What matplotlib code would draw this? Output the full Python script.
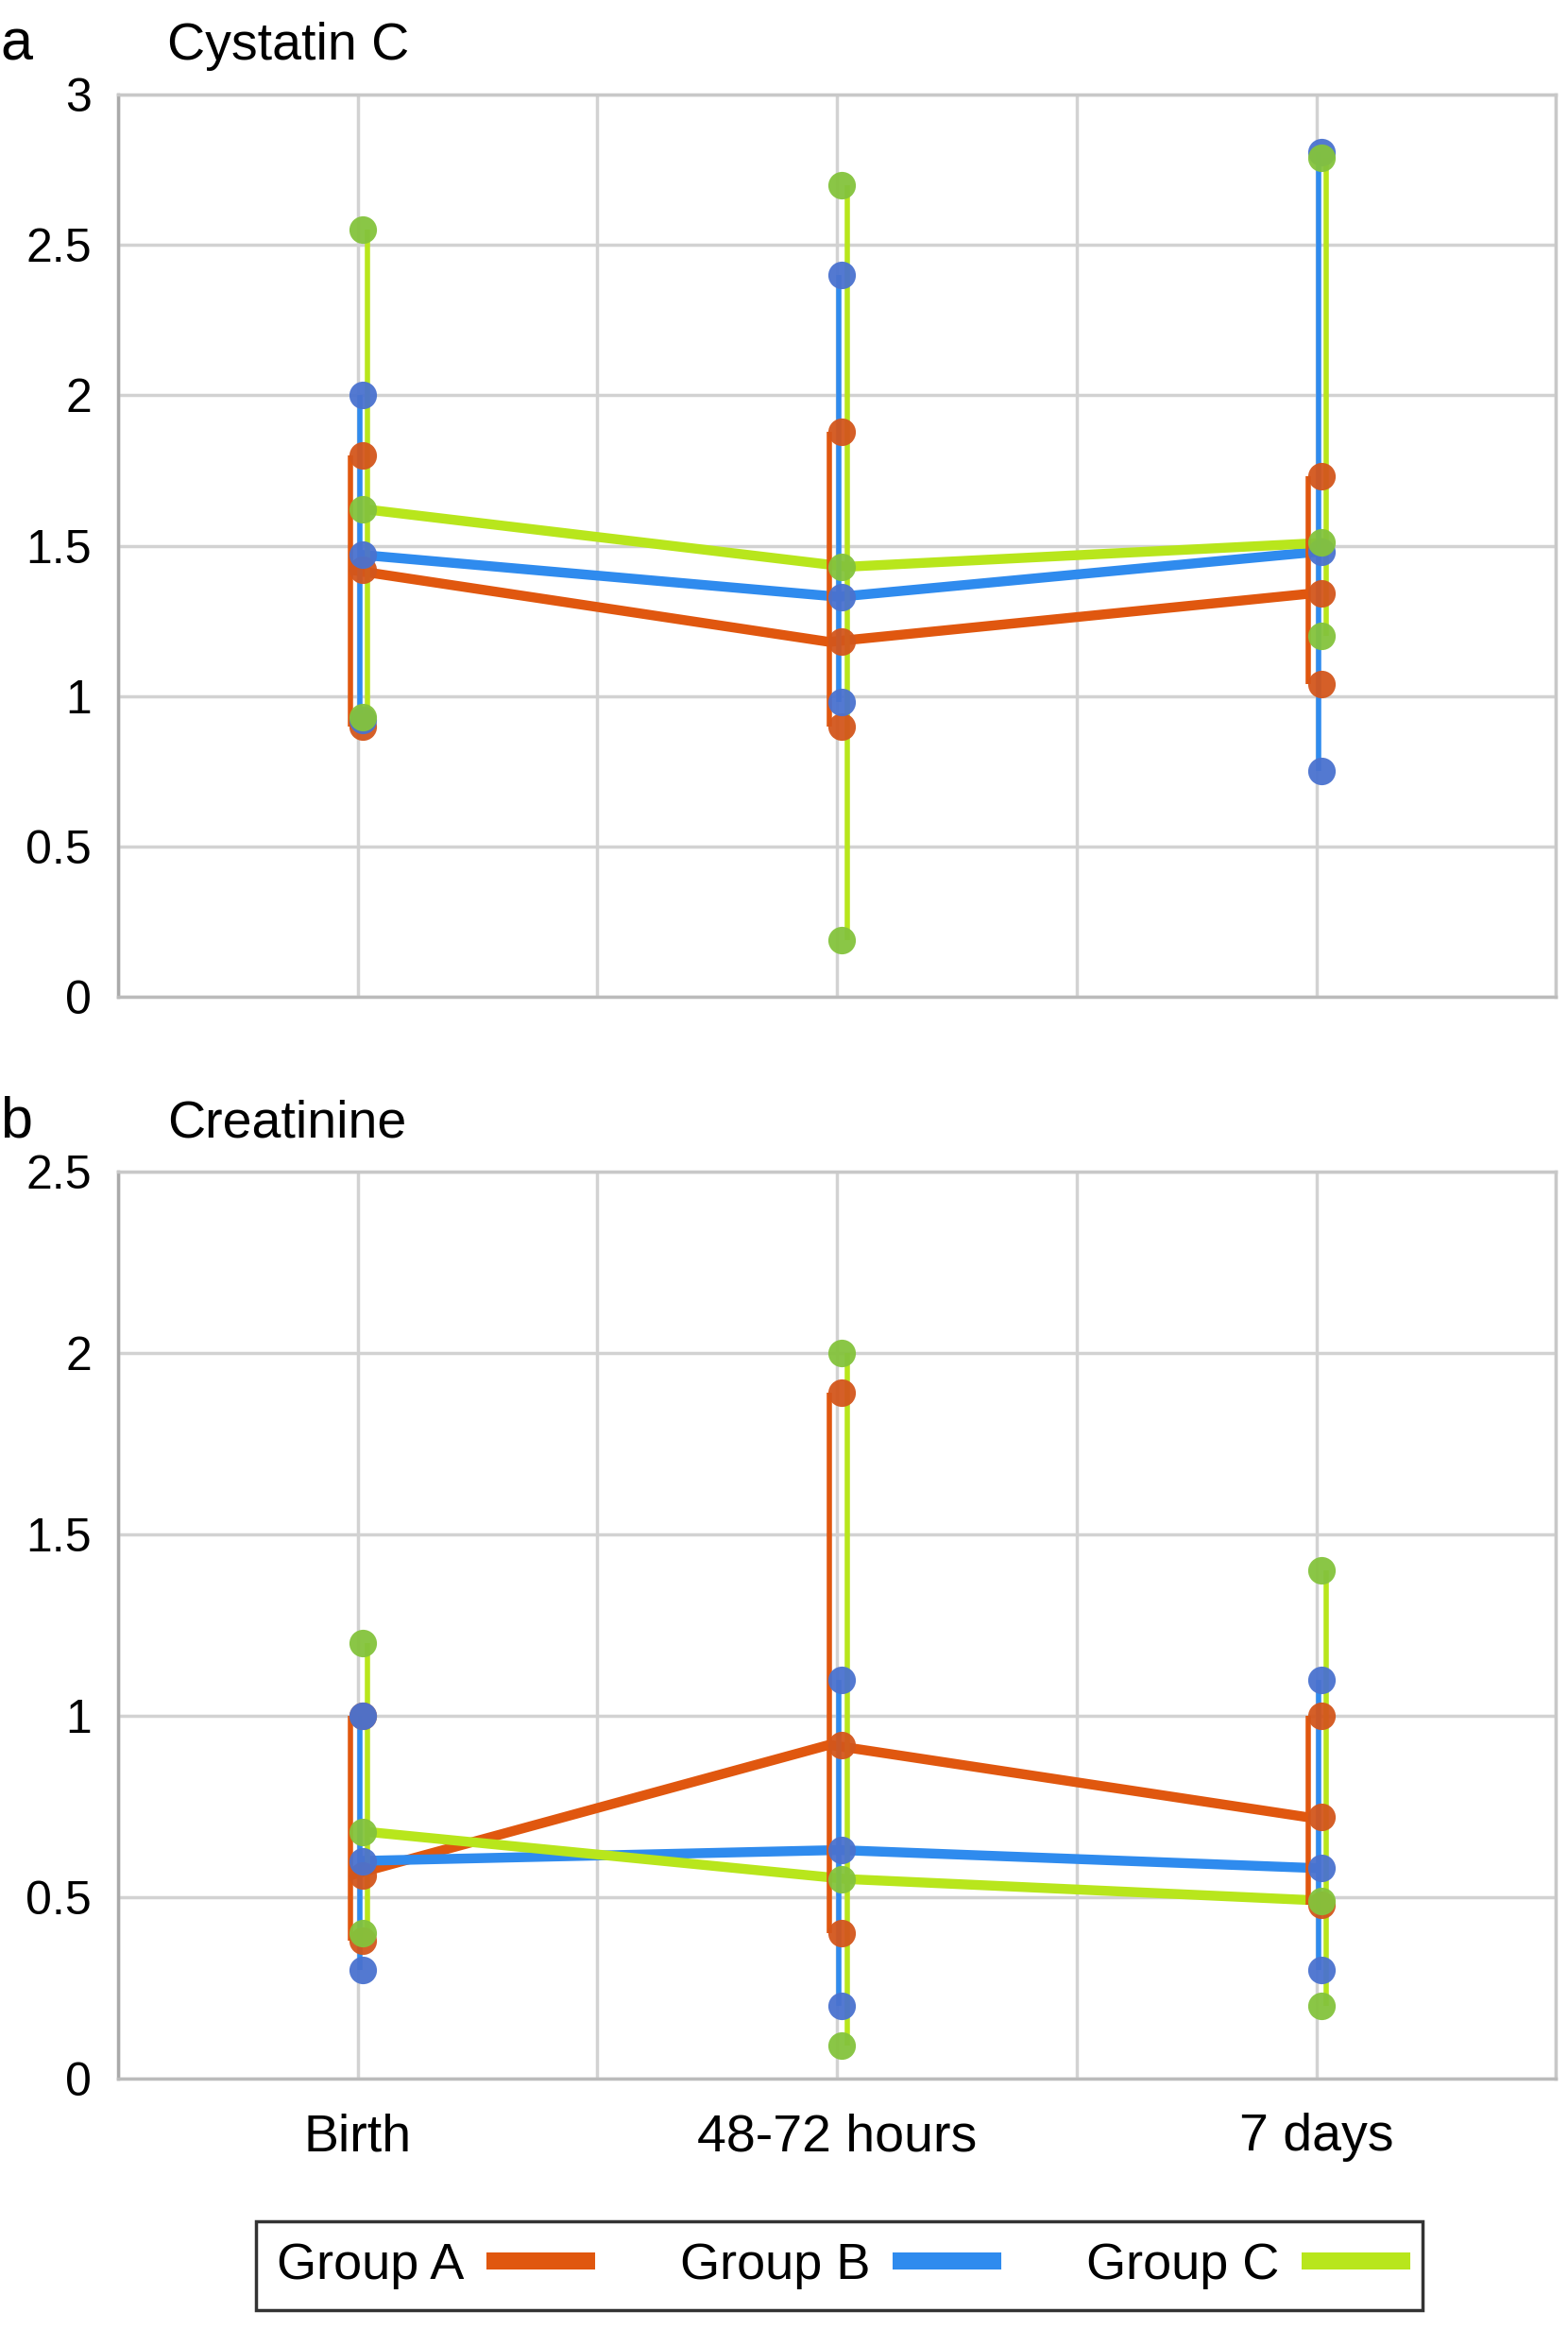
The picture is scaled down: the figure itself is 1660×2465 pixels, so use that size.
import numpy as np
import matplotlib
matplotlib.use("Agg")
import matplotlib.pyplot as plt
from matplotlib.lines import Line2D

plt.rcParams['font.family'] = ['Liberation Sans', 'DejaVu Sans']

timepoints = ["Birth", "48-72 hours", "7 days"]
groups = ["Group A", "Group B", "Group C"]

# cystatin C: mean, min, max per group and time point
cys_mean = {"Group A": [1.42, 1.18, 1.34], "Group B": [1.47, 1.33, 1.48], "Group C": [1.62, 1.43, 1.51]}
cys_min = {"Group A": [0.90, 0.90, 1.04], "Group B": [0.92, 0.98, 0.75], "Group C": [0.93, 0.19, 1.20]}
cys_max = {"Group A": [1.80, 1.88, 1.73], "Group B": [2.00, 2.40, 2.81], "Group C": [2.55, 2.70, 2.79]}

# creatinine
cre_mean = {"Group A": [0.56, 0.92, 0.72], "Group B": [0.60, 0.63, 0.58], "Group C": [0.68, 0.55, 0.49]}
cre_min = {"Group A": [0.38, 0.40, 0.48], "Group B": [0.30, 0.20, 0.30], "Group C": [0.40, 0.09, 0.20]}
cre_max = {"Group A": [1.00, 1.89, 1.00], "Group B": [1.00, 1.10, 1.10], "Group C": [1.20, 2.00, 1.40]}

line_col = {"Group A": "#E0570F", "Group B": "#2F8BEE", "Group C": "#B8E61C"}
dot_col = {"Group A": "#D3561C", "Group B": "#4A72CF", "Group C": "#84C33C"}
offset = {"Group A": -0.016, "Group B": 0.004, "Group C": 0.021}

x = np.arange(len(timepoints))

fig = plt.figure(figsize=(16.6, 24.65), dpi=100)


def panel(ax, mean, lo, hi, ymax):
    for g in groups:
        ax.plot(x + offset[g], mean[g], color=line_col[g], lw=7.5, zorder=3,
                solid_capstyle='butt')
    for g in groups:
        ax.vlines(x + offset[g], lo[g], hi[g], color=line_col[g], lw=4, zorder=4)
    for g in groups:
        xs = np.concatenate([x, x, x]) + 0.01
        ys = np.concatenate([lo[g], hi[g], mean[g]])
        ax.plot(xs, ys, 'o', ms=21, color=dot_col[g], mec='none', zorder=5, alpha=0.95)
    ax.set_xlim(-0.5, 2.5)
    ax.set_ylim(0, ymax)
    yt = np.arange(0, ymax + 0.01, 0.5)
    ax.set_yticks(yt)
    ax.set_yticklabels([f"{v:g}" for v in yt])
    ax.set_xticks(x)
    ax.set_xticks([-0.5, 0.5, 1.5, 2.5], minor=True)
    ax.grid(True, which='both', color='#D2D2D2', lw=2.5, zorder=0)
    ax.set_axisbelow(True)
    for s in ax.spines.values():
        s.set_color('#C8C8C8')
        s.set_linewidth(2.5)
    ax.spines['left'].set_color('#AAAAAA')
    ax.spines['bottom'].set_color('#BBBBBB')
    ax.tick_params(which='both', length=0)
    ax.tick_params(axis='y', labelsize=36, pad=20)


ax_a = fig.add_axes([0.0753, 0.572, 0.917, 0.3874])
panel(ax_a, cys_mean, cys_min, cys_max, 3)
ax_a.set_xticklabels([])

ax_b = fig.add_axes([0.0753, 0.1075, 0.917, 0.3895])
panel(ax_b, cre_mean, cre_min, cre_max, 2.5)
ax_b.set_xticklabels(timepoints)
ax_b.tick_params(axis='x', labelsize=40, pad=26)

fig.text(0.0, 1 - 63 / 2465, "a", fontsize=44, va='baseline')
fig.text(0.1066, 1 - 63 / 2465, "Cystatin C", fontsize=40, va='baseline')
fig.text(0.0, 1 - 1203 / 2465, "b", fontsize=44, va='baseline')
fig.text(0.1066, 1 - 1203 / 2465, "Creatinine", fontsize=40, va='baseline')

handles = [Line2D([], [], color=line_col[g], lw=13) for g in groups]
leg = fig.legend(handles, groups, loc='center', ncol=3, mode='expand',
                 bbox_to_anchor=(0.1633, 0.0053, 0.744, 0.0438),
                 bbox_transform=fig.transFigure, markerfirst=False,
                 fontsize=39, frameon=True, fancybox=False, handlelength=1.8,
                 handletextpad=0.6, borderaxespad=0, borderpad=0.4)
leg.get_frame().set_edgecolor('black')
leg.get_frame().set_linewidth(2.5)

fig.savefig("out.png", dpi=100)
